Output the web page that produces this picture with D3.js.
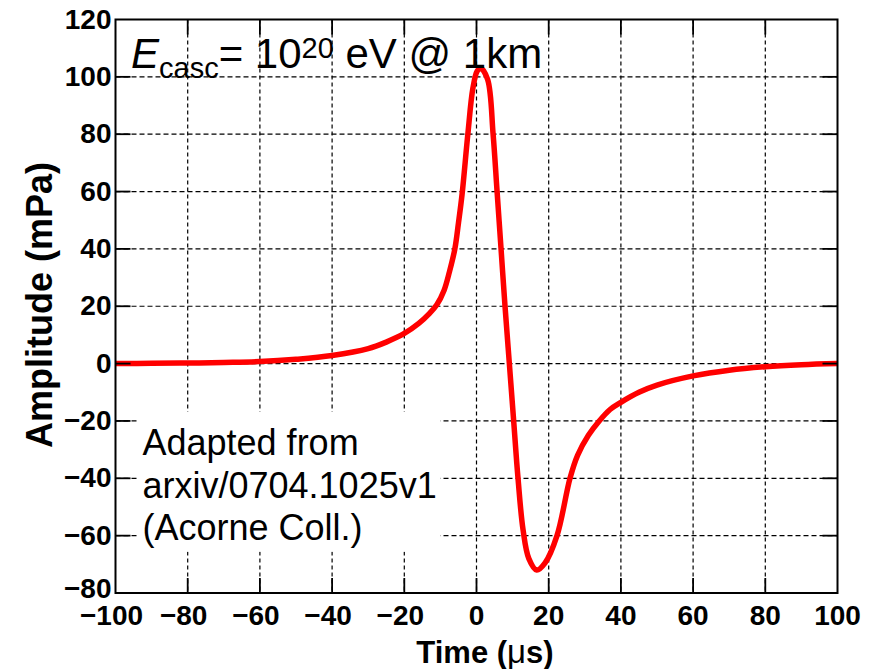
<!DOCTYPE html>
<html>
<head>
<meta charset="utf-8">
<script src="https://cdn.jsdelivr.net/npm/d3@7"></script>
<style>
body { margin: 0; background: #fff; }
svg { display: block; font-family: "Liberation Sans", Arial, sans-serif; }
.tick-label { font-size: 28px; font-weight: bold; fill: #000; }
</style>
</head>
<body>
<div id="chart"></div>
<script>
var width = 877, height = 669;
var margin = { top: 19.5, right: 39.5, bottom: 76, left: 115.5 };

// pulse: time (us) and amplitude (mPa)
var times = [-100, -90, -80, -70, -60, -50, -40, -30, -25, -20, -16, -13, -11, -9, -7.5, -6, -5, -4, -2.4, -1, 0.2, 1.2,
    3.1, 4.6, 5.7, 6.8, 7.9, 9.1, 10.3, 11.5, 12.9, 14.5, 16.7, 19, 22.3, 25.9, 28, 31, 34, 37, 40, 45, 50, 60, 70, 80, 90, 100];
var amps = [0, 0.1, 0.2, 0.4, 0.7, 1.5, 2.8, 5.2, 7.5, 10.5, 14, 17.5, 20.5, 25.5, 32, 40, 49, 59, 80, 96, 102, 103,
    99, 80, 60, 40, 20, 0, -20, -40, -58, -68, -72, -69.5, -60, -40, -32, -25, -20, -16, -13.5, -10, -7.5, -4.3, -2.3, -1.1, -0.4, 0];

var xTicks = [-100, -80, -60, -40, -20, 0, 20, 40, 60, 80, 100];
var yTicks = [-80, -60, -40, -20, 0, 20, 40, 60, 80, 100, 120];
var noteLines = ['Adapted from', 'arxiv/0704.1025v1', '(Acorne Coll.)'];

var x = d3.scaleLinear().domain([-100, 100]).range([margin.left, width - margin.right]);
var y = d3.scaleLinear().domain([-80, 120]).range([height - margin.bottom, margin.top]);

var svg = d3.select('#chart').append('svg')
    .attr('width', width)
    .attr('height', height);

svg.append('rect').attr('width', width).attr('height', height).attr('fill', '#fff');

// dashed grid
svg.append('g')
    .selectAll('line')
    .data(xTicks.slice(1, -1))
    .join('line')
    .attr('x1', d => x(d)).attr('x2', d => x(d))
    .attr('y1', y(120)).attr('y2', y(-80))
    .attr('stroke', '#000').attr('stroke-width', 1.2).attr('stroke-dasharray', '4,3');

svg.append('g')
    .selectAll('line')
    .data(yTicks.slice(1, -1))
    .join('line')
    .attr('x1', x(-100)).attr('x2', x(100))
    .attr('y1', d => y(d)).attr('y2', d => y(d))
    .attr('stroke', '#000').attr('stroke-width', 1.2).attr('stroke-dasharray', '5,3');

// white box behind the note
svg.append('rect')
    .attr('x', x(-100) + 22).attr('y', y(-16.8))
    .attr('width', 303).attr('height', 140)
    .attr('fill', '#fff');

var note = svg.append('text')
    .attr('font-size', 36)
    .attr('fill', '#000');
note.selectAll('tspan')
    .data(noteLines)
    .join('tspan')
    .attr('x', x(-100) + 27)
    .attr('y', (d, i) => 455 + i * 42.5)
    .text(d => d);

// the pulse
var line = d3.line()
    .x((d, i) => x(times[i]))
    .y(d => y(d))
    .curve(d3.curveCatmullRom.alpha(0.5));

svg.append('path')
    .datum(amps)
    .attr('d', line)
    .attr('fill', 'none')
    .attr('stroke', '#ff0000')
    .attr('stroke-width', 5.5)
    .attr('stroke-linejoin', 'round');

// frame
svg.append('rect')
    .attr('x', x(-100)).attr('y', y(120))
    .attr('width', x(100) - x(-100)).attr('height', y(-80) - y(120))
    .attr('fill', 'none').attr('stroke', '#000').attr('stroke-width', 2);

// ticks inside on all sides
var tl = 15;
var ticks = svg.append('g').attr('stroke', '#000').attr('stroke-width', 1.8);
xTicks.slice(1, -1).forEach(function (d) {
    ticks.append('line').attr('x1', x(d)).attr('x2', x(d)).attr('y1', y(-80)).attr('y2', y(-80) - tl);
    ticks.append('line').attr('x1', x(d)).attr('x2', x(d)).attr('y1', y(120)).attr('y2', y(120) + tl);
});
yTicks.slice(1, -1).forEach(function (d) {
    ticks.append('line').attr('x1', x(-100)).attr('x2', x(-100) + tl).attr('y1', y(d)).attr('y2', y(d));
    ticks.append('line').attr('x1', x(100)).attr('x2', x(100) - tl).attr('y1', y(d)).attr('y2', y(d));
});

function fmt(d) { return d < 0 ? '\u2212' + Math.abs(d) : '' + d; }

svg.append('g')
    .selectAll('text')
    .data(xTicks)
    .join('text')
    .attr('class', 'tick-label')
    .attr('x', d => x(d) - (d < 0 ? 4 : 0))
    .attr('y', 625)
    .attr('text-anchor', 'middle')
    .text(fmt);

svg.append('g')
    .selectAll('text')
    .data(yTicks)
    .join('text')
    .attr('class', 'tick-label')
    .attr('x', x(-100) - 4)
    .attr('y', d => y(d) + (d === -80 ? 5 : 9))
    .attr('text-anchor', 'end')
    .text(fmt);

// axis titles
var xt = svg.append('text')
    .attr('x', 485).attr('y', 663)
    .attr('text-anchor', 'middle')
    .attr('font-size', 31).attr('font-weight', 'bold');
xt.append('tspan').text('Time (');
xt.append('tspan').attr('font-weight', 'normal').attr('font-size', 33).text('\u03bc');
xt.append('tspan').text('s)');

svg.append('text')
    .attr('transform', 'translate(52,305) rotate(-90)')
    .attr('text-anchor', 'middle')
    .attr('font-size', 36).attr('font-weight', 'bold')
    .text('Amplitude (mPa)');

// energy label
var el = svg.append('text')
    .attr('x', 131).attr('y', 68)
    .attr('font-size', 42);
el.append('tspan').attr('font-style', 'italic').text('E');
el.append('tspan').attr('font-size', 29).attr('dy', 10).text('casc');
el.append('tspan').attr('dy', -10).text('= 10');
el.append('tspan').attr('font-size', 29).attr('dy', -10).text('20');
el.append('tspan').attr('dy', 10).text(' eV @ 1km');
</script>
</body>
</html>
